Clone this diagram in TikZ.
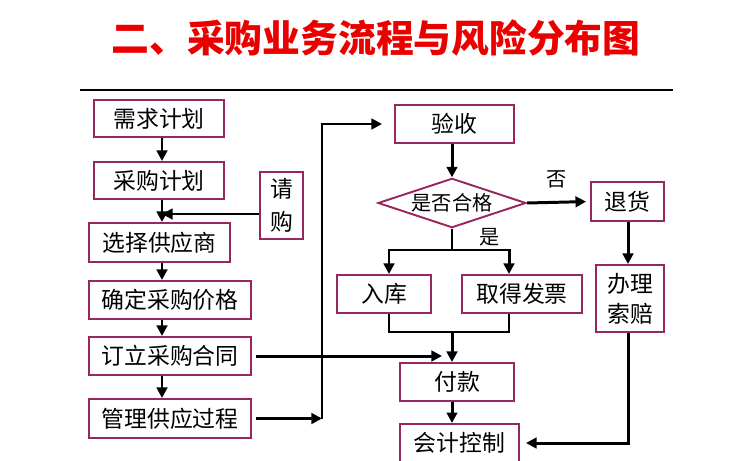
\documentclass[tikz,border=0pt]{standalone}
\usepackage{fontspec}
\newfontfamily\cjk{Noto Sans CJK SC}
\usetikzlibrary{shapes.geometric,arrows.meta}

\newcommand\pxu{0.02cm}
\definecolor{boxline}{RGB}{150,40,95}
\definecolor{titlered}{RGB}{235,0,0}

\tikzset{
  box/.style={draw=boxline, line width=1.1pt, fill=white, inner sep=0pt, align=center,
    font=\cjk\fontsize{13}{17}\selectfont},
  arr/.style={line width=1.7pt, -{Triangle[length=6pt,width=6pt]}},
  joint/.style={line width=1.2pt},
  lbl/.style={font=\cjk\fontsize{11.5}{13}\selectfont},
}

\begin{document}
\begin{tikzpicture}[x=\pxu, y=-\pxu]
\useasboundingbox (0,0) rectangle (750,460);

\node[font=\cjk\bfseries\fontsize{21.5}{24}\selectfont, text=titlered] (title) at (376,38) {二、采购业务流程与风险分布图};
\coordinate (ruleL) at (80,90);
\coordinate (ruleR) at (673,90);
\draw[line width=1.7pt] (ruleL) -- (ruleR);

% left column
\node[box, minimum width=130*\pxu, minimum height=37*\pxu] (xuqiu) at (159,118.5) {需求计划};
\node[box, minimum width=130*\pxu, minimum height=37*\pxu] (caigou) at (159,180.5) {采购计划};
\node[box, minimum width=43*\pxu, minimum height=67*\pxu] (qinggou) at (281.5,205.5) {请\\[2pt]购};
\node[box, minimum width=141*\pxu, minimum height=39*\pxu] (xuanze) at (159.5,242.5) {选择供应商};
\node[box, minimum width=162*\pxu, minimum height=38*\pxu] (queding) at (170,300) {确定采购价格};
\node[box, minimum width=162*\pxu, minimum height=38*\pxu] (dingli) at (170,356) {订立采购合同};
\node[box, minimum width=162*\pxu, minimum height=39*\pxu] (guanli) at (170,418.5) {管理供应过程};

% right part
\node[box, minimum width=119*\pxu, minimum height=38*\pxu] (yanshou) at (454.5,124) {验收};
\node[box, shape=diamond, aspect=3, inner sep=0.8pt, font=\cjk\fontsize{11.5}{13}\selectfont] (hege) at (452,203) {是否合格};
\node[box, minimum width=73*\pxu, minimum height=39*\pxu] (tuihuo) at (627.5,201.5) {退货};
\node[box, minimum width=68*\pxu, minimum height=67*\pxu] (suopei) at (630,298.5) {办理\\索赔};
\node[box, minimum width=94*\pxu, minimum height=38*\pxu] (ruku) at (384,294) {入库};
\node[box, minimum width=120*\pxu, minimum height=38*\pxu] (fapiao) at (522,294) {取得发票};
\node[box, minimum width=114*\pxu, minimum height=38*\pxu] (fukuan) at (457,382) {付款};
\node[box, minimum width=119*\pxu, minimum height=38*\pxu] (kuaiji) at (459.5,443) {会计控制};

\node[lbl] (fou) at (557,179) {否};
\node[lbl] (shi) at (490,237) {是};

% helper columns and rows
\coordinate (colL) at (162,0);
\coordinate (bend) at (322,0);
\coordinate (colA) at (389,0);
\coordinate (colM) at (452,0);
\coordinate (colB) at (509,0);
\coordinate (colR) at (628,0);
\coordinate (paytip) at (442,0);
\coordinate (qgy) at (0,214);
\coordinate (forky) at (0,250);
\coordinate (joiny) at (0,332);

% arrows, left column
\draw[arr] (xuqiu.south -| colL) -- (caigou.north -| colL);
\draw[arr] (caigou.south -| colL) -- (xuanze.north -| colL);
\draw[arr] (qinggou.west |- qgy) -- (colL |- qgy);
\draw[arr] (xuanze.south -| colL) -- (queding.north -| colL);
\draw[arr] (queding.south -| colL) -- (dingli.north -| colL);
\draw[arr] (dingli.south -| colL) -- (guanli.north -| colL);

\draw[arr] ([xshift=4*\pxu]dingli.east) -- (dingli.east -| paytip);
\draw[arr] ([xshift=4*\pxu]guanli.east) -- (guanli.east -| bend);
\draw[arr, shorten >=12*\pxu] (guanli.east -| bend) |- (yanshou.west);

% arrows, right part
\draw[arr] (yanshou.south -| colM) -- (hege.north);
\draw[arr, shorten >=4*\pxu] (hege.east) -- (tuihuo.west);
\draw[arr] (tuihuo.south -| colR) -- (suopei.north -| colR);
\draw[joint] (hege.south) -- (colM |- forky);
\draw[arr] (colM |- forky) -| (ruku.north -| colA);
\draw[arr] (colM |- forky) -| (fapiao.north -| colB);
\draw[joint] (ruku.south -| colA) |- (colM |- joiny) -| (fapiao.south -| colB);
\draw[arr] (colM |- joiny) -- (fukuan.north -| colM);
\draw[arr] (fukuan.south -| colM) -- (kuaiji.north -| colM);
\draw[arr, shorten >=6*\pxu] (suopei.south -| colR) |- (kuaiji.east);

\end{tikzpicture}
\end{document}
